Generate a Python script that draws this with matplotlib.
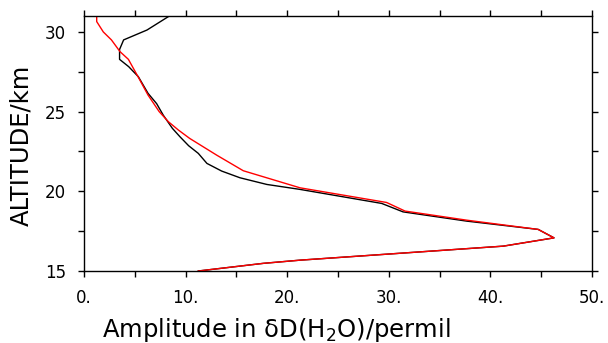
import numpy as np
import matplotlib
matplotlib.use('Agg')
import matplotlib.pyplot as plt
from matplotlib.ticker import MultipleLocator

plt.rcParams['font.family'] = ['DejaVu Sans']

# perfiles de amplitud
alt_negro = [31.0, 30.12, 29.5, 28.9, 28.28, 27.82, 27.19, 26.15, 25.5, 24.78,
             23.95, 23.42, 22.86, 22.38, 21.75, 21.27, 20.85, 20.43, 20.12,
             19.24, 18.71, 18.13, 17.61, 17.08, 16.56, 15.68, 15.48, 15.0]
amp_negro = [8.4, 6.2, 3.9, 3.5, 3.5, 4.4, 5.35, 6.3, 7.15, 7.8,
             8.7, 9.45, 10.3, 11.25, 12.1, 13.55, 15.35, 18.0, 21.26,
             29.3, 31.4, 37.66, 44.7, 46.26, 41.27, 21.26, 17.65, 11.25]

alt_rojo = [31.0, 30.65, 30.0, 29.5, 28.76, 28.28, 26.98, 26.04, 25.0, 24.37,
            23.84, 23.32, 22.27, 21.29, 20.22, 19.3, 18.76, 18.19, 17.61,
            17.08, 16.56, 15.68, 15.48, 15.0]
amp_rojo = [1.25, 1.25, 1.9, 2.7, 3.55, 4.37, 5.5, 6.3, 7.4, 8.3,
            9.3, 10.4, 13.06, 15.68, 21.26, 29.78, 31.6, 37.66, 44.7,
            46.26, 41.27, 21.26, 17.65, 11.25]

xticks = [0, 10, 20, 30, 40, 50]
xtick_labels = ['0.', '10.', '20.', '30.', '40.', '50.']
yticks = [15, 20, 25, 30]

fig = plt.figure(figsize=(6.08, 3.43), dpi=100)
ax = fig.add_axes([84/608, 1 - 271/343, (592-84)/608, (271-16)/343])

ax.plot(amp_negro, alt_negro, color='black', linewidth=1.0)
ax.plot(amp_rojo, alt_rojo, color='red', linewidth=1.0)

ax.set_xlim(0, 50)
ax.set_ylim(15, 31)
ax.set_xticks(xticks)
ax.set_xticklabels(xtick_labels)
ax.set_yticks(yticks)
ax.xaxis.set_minor_locator(MultipleLocator(5))
ax.yaxis.set_minor_locator(MultipleLocator(2.5))
ax.tick_params(which='both', direction='out', length=4, width=1,
               top=True, right=True, labelsize=12, pad=9)
ax.tick_params(axis='x', pad=9)
for s in ax.spines.values():
    s.set_linewidth(1)

fig.text(102/608, 1 - 337/343, 'Amplitude in δD(H$_2$O)/permil',
         fontsize=17.5, va='baseline', ha='left')
fig.text(9/608, 1 - 145/343, 'ALTITUDE/km', fontsize=17.5, rotation=90,
         va='center', ha='left')

plt.savefig('out.png', dpi=100)
